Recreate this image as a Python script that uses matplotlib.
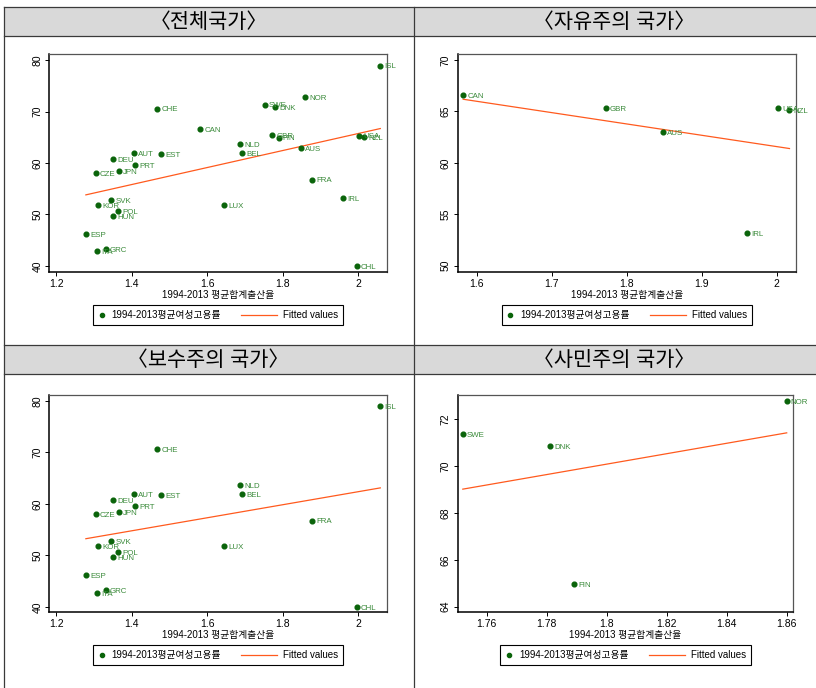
import matplotlib
matplotlib.use('Agg')
import matplotlib.pyplot as plt
import numpy as np
from matplotlib.lines import Line2D
from matplotlib.patches import Rectangle
from matplotlib.legend_handler import HandlerLine2D

plt.rcParams['font.family'] = ['Liberation Sans', 'Noto Sans CJK KR']

# 1994-2013 average total fertility rate (x) and female employment rate (y)
countries = ['ISL', 'NOR', 'SWE', 'DNK', 'CHE', 'CAN', 'GBR', 'FIN', 'USA', 'NZL',
             'NLD', 'AUS', 'BEL', 'AUT', 'EST', 'DEU', 'PRT', 'JPN', 'CZE', 'FRA',
             'IRL', 'SVK', 'KOR', 'LUX', 'POL', 'HUN', 'ESP', 'GRC', 'ITA', 'CHL']
tfr = [2.059, 1.860, 1.752, 1.781, 1.468, 1.582, 1.772, 1.789, 2.002, 2.017,
       1.688, 1.848, 1.693, 1.405, 1.477, 1.351, 1.409, 1.365, 1.304, 1.879,
       1.961, 1.345, 1.311, 1.645, 1.363, 1.351, 1.278, 1.331, 1.308, 1.997]
emp = [78.96, 72.78, 71.37, 70.84, 70.60, 66.60, 65.35, 64.95, 65.33, 65.10,
       63.73, 62.95, 61.91, 61.91, 61.78, 60.81, 59.58, 58.41, 58.09, 56.79,
       53.15, 52.77, 51.80, 51.86, 50.70, 49.66, 46.22, 43.31, 42.79, 39.94]

liberal = ['CAN', 'GBR', 'AUS', 'USA', 'NZL', 'IRL']
social = ['SWE', 'DNK', 'FIN', 'NOR']
conservative = [c for c in countries if c not in liberal + social]

titles = ['〈전체국가〉', '〈자유주의 국가〉', '〈보수주의 국가〉', '〈사민주의 국가〉']
groups = [countries, liberal, conservative, social]
x_ticks = [[1.2, 1.4, 1.6, 1.8, 2], [1.6, 1.7, 1.8, 1.9, 2],
           [1.2, 1.4, 1.6, 1.8, 2], [1.76, 1.78, 1.8, 1.82, 1.84, 1.86]]
y_ticks = [[40, 50, 60, 70, 80], [50, 55, 60, 65, 70],
           [40, 50, 60, 70, 80], [64, 66, 68, 70, 72]]
x_lims = [(1.181, 2.076), (1.5747, 2.0253), (1.181, 2.076), (1.7503, 1.8622)]
y_lims = [(38.8, 81.2), (49.39, 70.58), (39.03, 81.22), (63.77, 73.05)]

xlabel = '1994-2013 평균합계출산율'
leg_labels = ['1994-2013평균여성고용률', 'Fitted values']

W, H = 816, 688
fig = plt.figure(figsize=(W / 100, H / 100), dpi=100)


def fx(x):
    return x / W


def fy(y):
    return 1 - y / H


# table frame
for t, b in [(7, 36), (345, 374)]:
    fig.add_artist(Rectangle((fx(4), fy(b)), fx(816 - 4), (b - t) / H,
                             transform=fig.transFigure, facecolor='#d9d9d9',
                             edgecolor='none'))
for y in [7, 36, 345, 374]:
    fig.add_artist(Line2D([fx(4), fx(816)], [fy(y), fy(y)], transform=fig.transFigure,
                          color='#3a3a3a', lw=0.9))
for x in [4, 413.5]:
    fig.add_artist(Line2D([fx(x), fx(x)], [fy(7), fy(688)], transform=fig.transFigure,
                          color='#3a3a3a', lw=0.9))

for i, title in enumerate(titles):
    cx = 208.5 if i % 2 == 0 else 614.5
    cy = 22 if i < 2 else 360
    fig.text(fx(cx), fy(cy), title, ha='center', va='center', fontsize=15)

axes_px = [(49.3, 54, 386.7, 272), (457.7, 54, 795.7, 272),
           (49.3, 394.7, 386.7, 612), (457.7, 394.7, 793.3, 612)]


class LongLine(HandlerLine2D):
    def get_xdata(self, legend, xdescent, ydescent, width, height, fontsize):
        xd = np.array([-xdescent - 2.9 * fontsize, -xdescent + width])
        return xd, xd


dot_col = '#0a640a'
lab_col = '#3a8a3a'
fit_col = '#ff5a1e'

for i in range(4):
    l, t, r, b = axes_px[i]
    ax = fig.add_axes([fx(l), fy(b), fx(r - l), (b - t) / H])
    idx = [countries.index(c) for c in groups[i]]
    xs = np.array([tfr[k] for k in idx])
    ys = np.array([emp[k] for k in idx])
    ax.plot(xs, ys, 'o', color=dot_col, markersize=3.4, zorder=3)
    for k in idx:
        ax.annotate(countries[k], (tfr[k], emp[k]), xytext=(3, -1),
                    textcoords='offset points', fontsize=5.7, color=lab_col,
                    ha='left', va='center')
    slope, inter = np.polyfit(xs, ys, 1)
    xf = np.array([xs.min(), xs.max()])
    ax.plot(xf, inter + slope * xf, color=fit_col, lw=0.9, zorder=2)

    ax.set_xlim(*x_lims[i])
    ax.set_ylim(*y_lims[i])
    ax.set_xticks(x_ticks[i])
    ax.set_xticklabels([f'{v:g}' for v in x_ticks[i]])
    ax.set_yticks(y_ticks[i])
    ax.tick_params(length=3, width=0.7, pad=2, labelsize=7.5)
    for lab in ax.get_yticklabels():
        lab.set_rotation(90)
        lab.set_va('center')
    ax.spines['left'].set_linewidth(1.1)
    ax.spines['bottom'].set_linewidth(1.1)
    for s in ['top', 'right']:
        ax.spines[s].set_color('#555555')
        ax.spines[s].set_linewidth(0.9)
    ax.set_xlabel(xlabel, fontsize=7, labelpad=1)

    h_dot = Line2D([], [], marker='o', color=dot_col, linestyle='none', markersize=3)
    h_fit = Line2D([], [], color=fit_col, lw=0.9)
    ax.legend([h_dot, h_fit], leg_labels, loc='center', ncol=2,
              bbox_to_anchor=(fx((l + r) / 2), fy(b + 43)),
              bbox_transform=fig.transFigure, fontsize=7, frameon=True,
              fancybox=False, edgecolor='black', framealpha=1,
              handlelength=0.8, handletextpad=0.6, columnspacing=5.0,
              numpoints=1, borderpad=0.5,
              handler_map={h_fit: LongLine()})
    ax.get_legend().get_frame().set_linewidth(0.8)

fig.savefig('out.png', dpi=100)
